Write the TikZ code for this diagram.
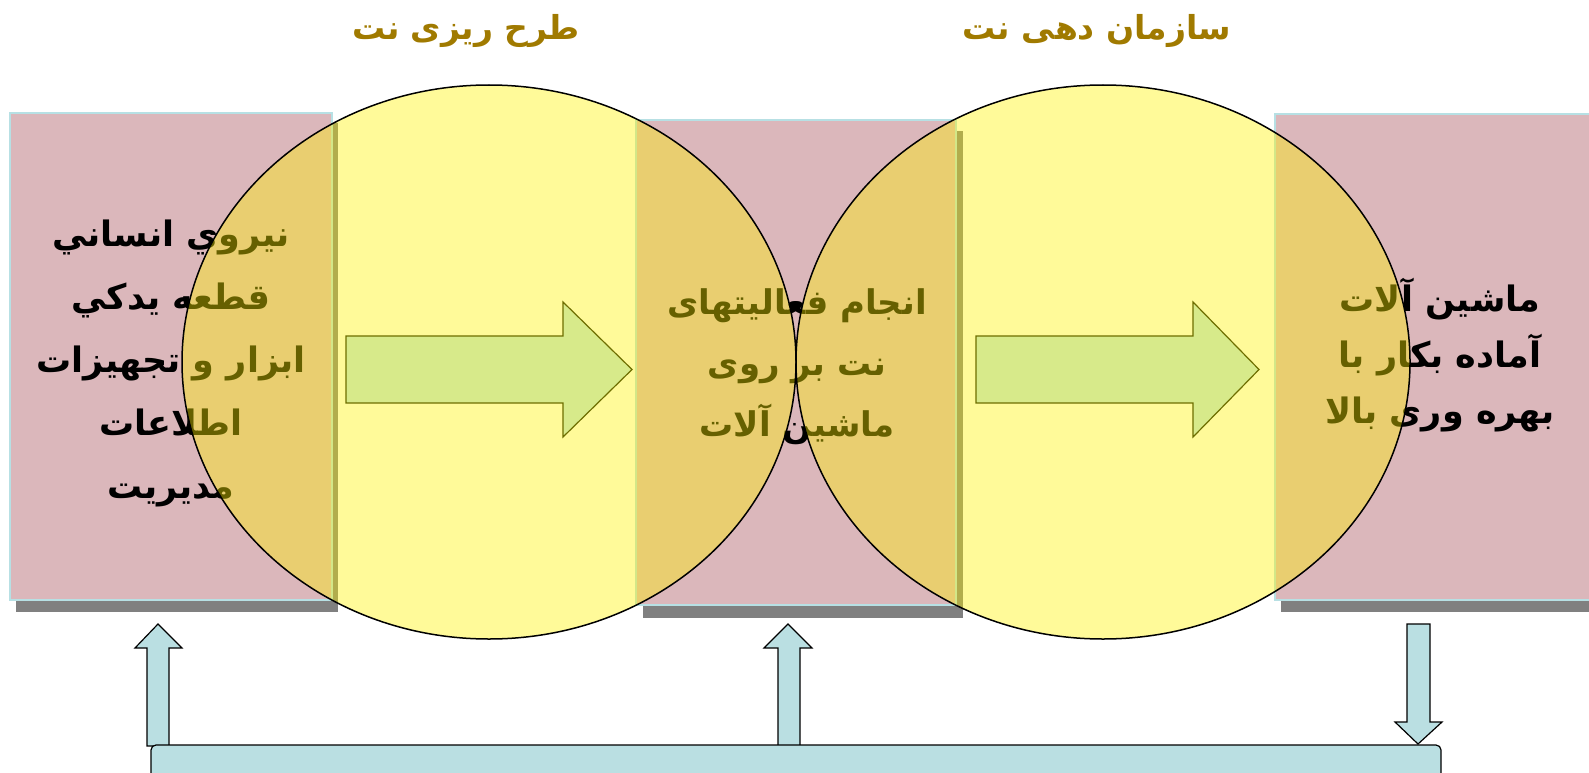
\documentclass[tikz,border=0pt]{standalone}
\usepackage{fontspec}
\usepackage{tikz}
\usetikzlibrary{shapes.geometric}
\newfontfamily\arabicfont[Script=Arabic]{DejaVu Sans}
\TeXXeTstate=1

\definecolor{panelpink}{RGB}{219,183,187}
\definecolor{panelrim}{RGB}{183,224,228}
\definecolor{shadowgray}{RGB}{128,128,128}
\definecolor{flowgreen}{RGB}{215,234,138}
\definecolor{flowolive}{RGB}{110,110,0}
\definecolor{linkblue}{RGB}{186,223,226}
\definecolor{titlegold}{RGB}{160,122,0}

\begin{document}
\begin{tikzpicture}[x=1pt,y=-1pt]
	  \useasboundingbox (0,0) rectangle (1589,773);
	  \tikzset{PanelStyle/.style = {fill		= panelpink,
	  								  draw		= panelrim,
	                                 line width	= 1.2pt}}

	  \tikzset{ShadowStyle/.style = {fill = shadowgray}}

	  \tikzset{RingStyle/.style = {shape			= ellipse,
	  								  draw			= black,
	  								  fill			= yellow,
	  								  fill opacity	= 0.4,
	  								  line width	= 1.5pt,
	                                 inner sep		= 0pt,
	                                 minimum width	= 614pt,
	                                 minimum height	= 554pt}}

	  \tikzset{FlowStyle/.style = {fill = flowgreen, draw = flowolive, line width = 1.2pt}}

	  \tikzset{LinkStyle/.style = {fill = linkblue, draw = black, line width = 1.2pt}}

	  \tikzset{BoxText/.style = {align = center, text = black,
	  								  font = \arabicfont\bfseries\fontsize{35}{63}\selectfont}}

	  \tikzset{TitleStyle/.style = {text = titlegold,
	  								  font = \arabicfont\bfseries\fontsize{33}{40}\selectfont}}

	     % panels with their shadows
	     \fill[ShadowStyle] (16,123) rectangle (338,612);
	     \fill[ShadowStyle] (643,131) rectangle (963,618);
	     \fill[ShadowStyle] (1281,124) rectangle (1600,612);
	     \draw[PanelStyle] (10,113) rectangle (332,600);
	     \draw[PanelStyle] (636,120) rectangle (956,605);
	     \draw[PanelStyle] (1275,114) rectangle (1600,600);

	     \node[BoxText] (resources) at (171,363) {\beginR نيروي انساني\endR\\ \beginR قطعه يدكي\endR\\ \beginR ابزار و تجهيزات\endR\\ \beginR اطلاعات\endR\\ \beginR مديريت\endR};
	     \node[BoxText, font = \arabicfont\bfseries\fontsize{34}{61}\selectfont] (tasks) at (797,367) {\beginR انجام فعالیتهای\endR\\ \beginR نت بر روی\endR\\ \beginR ماشین آلات\endR};
	     \node[BoxText, font = \arabicfont\bfseries\fontsize{35}{56}\selectfont] (machines) at (1440,355) {\beginR ماشین آلات\endR\\ \beginR آماده بکار با\endR\\ \beginR بهره وری بالا\endR};

	     \node[RingStyle] (planning) at (489,362) {};
	     \node[RingStyle] (organizing) at (1103,362) {};

	     \node[TitleStyle] (plantitle) at (466,31) {\beginR طرح ریزی نت\endR};
	     \node[TitleStyle] (orgtitle) at (1097,31) {\beginR سازمان دهی نت\endR};

	     % block arrows
	     \draw[FlowStyle] (346,336) -- (563,336) -- (563,302) -- (632,369.5) -- (563,437) -- (563,403) -- (346,403) -- cycle;
	     \draw[FlowStyle] (976,336) -- (1193,336) -- (1193,302) -- (1259,369.5) -- (1193,437) -- (1193,403) -- (976,403) -- cycle;

	     % feedback
	     \draw[LinkStyle] (147,746) -- (147,648) -- (135,648) -- (158,624) -- (182,648) -- (169,648) -- (169,746) -- cycle;
	     \draw[LinkStyle] (778,746) -- (778,648) -- (764,648) -- (788,624) -- (812,648) -- (800,648) -- (800,746) -- cycle;
	     \draw[LinkStyle] (1407,624) -- (1430,624) -- (1430,722) -- (1442,722) -- (1418,744) -- (1395,722) -- (1407,722) -- cycle;
	     \draw[LinkStyle, rounded corners = 5pt] (151,745) rectangle (1441,795);

	  \end{tikzpicture}
\end{document}
